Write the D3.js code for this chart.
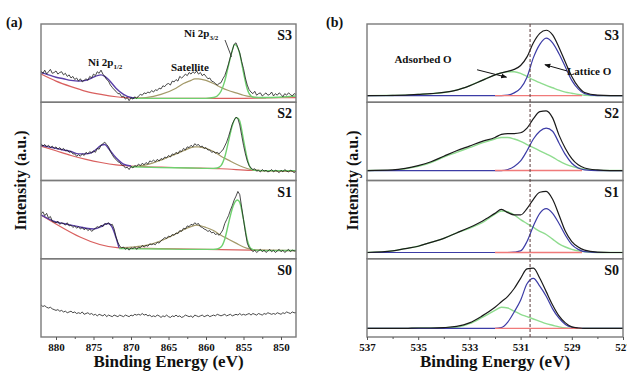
<!DOCTYPE html>
<html>
<head>
<meta charset="utf-8">
<script src="https://cdn.jsdelivr.net/npm/d3@7"></script>
<style>
  body { margin: 0; background: #fff; }
  svg text { font-family: "Liberation Serif", "Times New Roman", Times, "DejaVu Serif", serif; font-weight: bold; fill: #111; }
  .axis path, .axis line { stroke: #555; }
  .axis text { font-size: 11px; }
</style>
</head>
<body>
<svg id="chart" width="627" height="371" style="font-family: 'Liberation Serif', 'Times New Roman', serif;"></svg>
<script>
// ---------- data (intensity in arbitrary units, 0-100 per stacked panel) ----------
const sampleNames = ['S3', 'S2', 'S1', 'S0'];

// (a) Ni 2p raw spectra, 882 -> 848 eV every 0.25 eV
const niEnergy = [
  882, 881.75, 881.5, 881.25, 881, 880.75, 880.5, 880.25, 880, 879.75, 879.5, 879.25,
  879, 878.75, 878.5, 878.25, 878, 877.75, 877.5, 877.25, 877, 876.75, 876.5, 876.25,
  876, 875.75, 875.5, 875.25, 875, 874.75, 874.5, 874.25, 874, 873.75, 873.5, 873.25,
  873, 872.75, 872.5, 872.25, 872, 871.75, 871.5, 871.25, 871, 870.75, 870.5, 870.25,
  870, 869.75, 869.5, 869.25, 869, 868.75, 868.5, 868.25, 868, 867.75, 867.5, 867.25,
  867, 866.75, 866.5, 866.25, 866, 865.75, 865.5, 865.25, 865, 864.75, 864.5, 864.25,
  864, 863.75, 863.5, 863.25, 863, 862.75, 862.5, 862.25, 862, 861.75, 861.5, 861.25,
  861, 860.75, 860.5, 860.25, 860, 859.75, 859.5, 859.25, 859, 858.75, 858.5, 858.25,
  858, 857.75, 857.5, 857.25, 857, 856.75, 856.5, 856.25, 856, 855.75, 855.5, 855.25,
  855, 854.75, 854.5, 854.25, 854, 853.75, 853.5, 853.25, 853, 852.75, 852.5, 852.25,
  852, 851.75, 851.5, 851.25, 851, 850.75, 850.5, 850.25, 850, 849.75, 849.5, 849.25,
  849, 848.75, 848.5, 848.25, 848];
const niS3 = [
  40, 37, 41, 36, 39, 42, 37, 38, 40, 36, 38, 39, 35, 37, 33, 35, 31, 33, 29, 31,
  27, 30, 26, 28, 30, 28, 33, 31, 36, 34, 39, 37, 41, 36, 33, 29, 27, 22, 19, 16,
  14, 11, 11, 7, 8, 4, 6, 2, 6, 4, 7, 5, 8, 10, 9, 12, 11, 13, 12, 15,
  13, 16, 15, 18, 17, 21, 20, 23, 24, 22, 27, 26, 29, 27, 33, 31, 33, 36, 34, 38,
  36, 39, 37, 40, 36, 38, 34, 36, 33, 30, 31, 27, 26, 24, 22, 24, 25, 30, 34, 41,
  49, 58, 66, 74, 76, 70, 63, 52, 43, 31, 22, 16, 13, 11, 14, 9, 11, 12, 8, 10,
  12, 9, 10, 13, 8, 11, 9, 12, 10, 7, 11, 9, 12, 10, 8, 11, 10];
const niS2 = [
  47, 44, 46, 43, 45, 42, 44, 41, 43, 40, 42, 39, 41, 38, 39, 36, 37, 34, 34, 31,
  33, 31, 34, 32, 36, 34, 37, 35, 38, 36, 41, 40, 45, 47, 49, 46, 43, 37, 33, 29,
  27, 24, 23, 20, 19, 16, 17, 14, 18, 16, 19, 18, 21, 19, 22, 20, 23, 21, 25, 24,
  26, 24, 27, 25, 28, 27, 30, 29, 32, 30, 34, 33, 36, 34, 38, 37, 41, 39, 43, 42,
  45, 43, 47, 45, 46, 43, 44, 41, 42, 39, 39, 36, 37, 35, 36, 34, 37, 39, 44, 49,
  56, 64, 72, 77, 81, 79, 71, 58, 45, 34, 25, 19, 16, 14, 15, 12, 13, 11, 14, 12,
  13, 11, 12, 14, 11, 13, 12, 10, 13, 11, 14, 12, 11, 13, 12, 10, 12];
const niS1 = [
  57, 60, 55, 58, 52, 54, 48, 47, 46, 48, 44, 46, 45, 43, 46, 42, 43, 40, 42, 39,
  41, 38, 40, 37, 39, 36, 38, 35, 37, 39, 41, 40, 43, 41, 45, 44, 46, 43, 44, 38,
  28, 21, 16, 14, 15, 12, 14, 11, 14, 13, 15, 12, 15, 14, 17, 15, 17, 16, 19, 18,
  19, 18, 21, 20, 23, 25, 27, 26, 29, 28, 31, 30, 33, 32, 36, 35, 39, 38, 42, 41,
  44, 43, 46, 44, 45, 41, 40, 38, 37, 35, 36, 33, 34, 31, 32, 30, 33, 37, 45, 50,
  55, 62, 68, 75, 80, 86, 82, 66, 50, 34, 20, 14, 12, 9, 11, 8, 10, 12, 9, 11,
  8, 10, 12, 9, 11, 8, 10, 12, 9, 11, 8, 10, 12, 9, 11, 10, 10];
const niS0 = [
  41, 39, 40, 38, 37, 38, 36, 35, 34, 35, 33, 34, 32, 33, 31, 32, 33, 31, 32, 30,
  31, 30, 32, 29, 30, 31, 29, 30, 28, 29, 27, 29, 28, 27, 29, 26, 28, 27, 26, 28,
  27, 26, 28, 27, 26, 28, 27, 26, 28, 27, 29, 28, 29, 28, 30, 28, 29, 27, 28, 26,
  27, 26, 28, 27, 25, 27, 26, 28, 26, 25, 27, 26, 28, 26, 27, 25, 26, 28, 27, 26,
  27, 25, 28, 27, 26, 27, 28, 26, 27, 28, 26, 27, 28, 27, 29, 28, 27, 28, 29, 27,
  28, 29, 27, 28, 29, 28, 30, 28, 29, 28, 29, 30, 28, 30, 29, 28, 30, 29, 28, 30,
  29, 31, 30, 29, 30, 29, 31, 30, 29, 31, 30, 32, 31, 30, 32, 31, 31];

// (a) fitted components: [energies, values] per sample (S3, S2, S1)
const bgEnergy = [[882, 880, 878, 876, 874, 872, 870, 868, 864, 860, 856, 852, 848],
                  [882, 880, 878, 876, 874, 872, 870, 866, 862, 858, 854, 850, 848],
                  [882, 871.6, 866, 860, 854, 848]];
const bgValue = [[36, 27, 20, 14, 10, 7, 5.5, 5, 5, 5, 5, 5.5, 6],
                 [44, 38, 32, 27, 23, 20, 18.5, 17, 16, 15, 13, 12, 11.5],
                 [56, 14, 13, 12, 11, 10.5]];
const p12Energy = [[882, 881, 880, 879, 878, 877, 876, 875, 874.5, 874, 873.5, 873, 872, 871, 870, 869.5],
                   [882, 881, 880, 879, 878, 877, 876, 875, 874.5, 874, 873.5, 873, 872, 871, 870],
                   [882, 881, 880, 879, 878, 877, 876, 875, 874, 873.5, 873, 872.5, 872, 871.6]];
const p12Value = [[38, 35, 32, 30, 28, 27, 28, 32, 34, 35, 33, 29, 18, 10, 6, 5.5],
                  [45, 43, 41, 39, 37, 34, 34, 37, 41, 45, 46, 41, 29, 21, 18.5],
                  [56, 51, 47, 45, 43, 41, 39, 38, 41, 44, 45, 40, 27, 14]];
const satEnergy = [[870, 868, 866, 864, 863, 862, 861.5, 861, 860, 859, 858, 857, 856, 855, 854, 853, 852],
                   [870, 868, 866, 864, 863, 862, 861.5, 861, 860, 859, 858, 857, 856, 855, 854, 853, 852],
                   [871.6, 870, 868, 866, 864, 863, 862, 861.3, 860, 859, 858, 857, 856, 855, 854, 853, 852]];
const satValue = [[5, 6, 10, 18, 24, 28, 30, 30, 28, 24, 19, 15, 12, 9, 7, 6, 5.5],
                  [17.5, 20, 26, 34, 38, 42, 43, 43, 41, 37, 31, 26, 21, 17, 14, 13, 12.5],
                  [14, 15, 17, 23, 32, 37, 41, 43, 40, 36, 30, 25, 20, 15, 12, 11, 10.5]];
const p32Energy = [[870, 866, 862, 860, 859, 858.5, 858, 857.5, 857, 856.5, 856.2, 856, 855.5, 855, 854.5, 854, 853.5, 852, 848],
                   [870, 866, 862, 860, 859, 858.5, 858, 857.5, 857, 856.5, 856, 855.8, 855.5, 855, 854.5, 854, 853.5, 852, 848],
                   [871.6, 866, 862, 860, 859, 858.5, 858, 857.5, 857, 856.5, 856, 855.8, 855.5, 855, 854.5, 854, 853.5, 852, 848]];
const p32Value = [[5, 5, 5, 5, 6, 8, 14, 27, 47, 66, 74, 73, 62, 38, 17, 8, 6, 6, 8],
                  [17.5, 16.5, 16, 15.5, 15.5, 16, 19, 30, 50, 70, 80, 80, 76, 52, 28, 15, 13, 12.5, 12.5],
                  [13, 12.5, 12, 12, 12, 12.5, 15, 25, 45, 64, 74, 75, 72, 50, 24, 13, 11, 10.5, 10.5]];

// (b) O 1s fitted spectra
const oEnergy = [537, 536, 535.5, 535, 534.5, 534, 533.5, 533, 532.5, 532, 531.75, 531.5, 531.25, 531, 530.75,
  530.5, 530.25, 530, 529.75, 529.5, 529.25, 529, 528.75, 528.5, 528, 527.5, 527];
const oTotal = [
  [8.5, 8.7, 9, 10, 11, 12.5, 15.5, 21, 28, 35, 37.5, 39.5, 42, 47, 58, 76, 88, 92, 86, 70, 51, 33, 20, 12.5, 9, 8.5, 8.5],
  [12.7, 13.5, 15.5, 19, 24, 31, 38, 44, 50, 55, 59, 60, 60, 61, 67, 79, 88, 89, 80, 58, 41, 28, 20, 16, 13.5, 12.7, 12.7],
  [8, 10, 13, 16, 21, 26, 33, 40, 48, 58, 63, 59, 56, 56, 64, 76, 85, 86, 76, 56, 35, 22, 15, 11, 8.5, 8, 8],
  [11, 11, 11, 11.5, 11.5, 12, 13.5, 18, 27, 38, 45, 52, 62, 75, 87, 88, 75, 58, 41, 27, 18, 13, 11.5, 11, 11, 11, 11]];
const oAdsorbed = [
  [8.5, 8.7, 9, 10, 11, 12.5, 15.5, 21, 28, 35, 37.5, 39, 39, 37, 33, 28.5, 25, 21.5, 18.5, 15.5, 13, 11.5, 10, 9, 8.5, 8.5, 8.5],
  [12.7, 13, 15, 18, 23, 30, 36, 42, 48, 53, 55, 55, 53, 50, 46, 42, 38, 34, 30, 25, 21, 18, 16, 14.5, 13, 12.7, 12.7],
  [8, 10, 13, 16, 21, 26, 33, 39, 46, 57, 61, 60, 56, 50, 45, 40, 35, 31, 25, 19, 15, 12, 10, 9, 8, 8, 8],
  [11, 11, 11, 11.5, 11.5, 12, 12.5, 17, 25, 34, 38, 37, 33, 29, 26, 23, 20, 17, 15, 13, 11.5, 11, 11, 11, 11, 11, 11]];
const oLattice = [
  [8.5, 8.5, 8.5, 8.5, 8.5, 8.5, 8.5, 8.5, 8.5, 8.5, 8.5, 9, 12, 18, 32, 57, 74, 82, 76, 62, 45, 28, 17, 11, 8.5, 8.5, 8.5],
  [12.7, 12.7, 12.7, 12.7, 12.7, 12.7, 12.7, 12.7, 12.7, 12.7, 12.7, 14, 18, 25, 38, 53, 63, 67, 63, 48, 33, 22, 16, 13.5, 12.7, 12.7, 12.7],
  [8, 8, 8, 8, 8, 8, 8, 8, 8, 8, 8, 8, 8.5, 10, 22, 42, 58, 64, 58, 45, 30, 18, 12, 9, 8, 8, 8],
  [11, 11, 11, 11, 11, 11, 11, 11, 11, 11, 12, 19, 32, 47, 68, 75, 65, 52, 36, 24, 16, 12.5, 11.5, 11, 11, 11, 11]];
const oBaseRange = [532, 528.6];
const oDashed = 530.63;

const niTicks = [880, 875, 870, 865, 860, 855, 850];
const oTicks = [537, 535, 533, 531, 529, 527];

// ---------- layout ----------
const svg = d3.select('#chart');
const plotTop = 24, plotBottom = 337;
const panelH = (plotBottom - plotTop) / 4;
const serif = '"Liberation Serif", "Times New Roman", Times, serif';

const xNi = d3.scaleLinear().domain([882, 848]).range([41, 296]);
const xO = d3.scaleLinear().domain([537, 527]).range([367, 623]);

function yPanel(i) {
    return d3.scaleLinear().domain([0, 100]).range([plotTop + (i + 1) * panelH, plotTop + i * panelH]);
}

const colors = { raw: '#1a1a1a', bg: '#d9605f', p12: '#5a3fa8', sat: '#a49a6a', p32: '#6fd06f',
                 lattice: '#3c3ca6', adsorbed: '#8fdc8f' };

svg.append('defs').append('marker')
    .attr('id', 'arrow').attr('viewBox', '0 0 10 10').attr('refX', 9).attr('refY', 5)
    .attr('markerWidth', 6).attr('markerHeight', 6).attr('orient', 'auto')
    .append('path').attr('d', 'M0,1 L10,5 L0,9 z').attr('fill', '#111');

function drawLine(g, xs, ys, x, y, color, width, curve) {
    const pts = xs.map((e, k) => [e, ys[k]]);
    g.append('path')
        .datum(pts)
        .attr('fill', 'none')
        .attr('stroke', color)
        .attr('stroke-width', width)
        .attr('stroke-linejoin', 'round')
        .attr('d', d3.line().x(d => x(d[0])).y(d => y(d[1])).curve(curve || d3.curveLinear));
}

function label(x, y, size, txt) {
    return svg.append('text')
        .attr('x', x).attr('y', y)
        .style('font-family', serif).style('font-weight', 'bold')
        .style('font-size', size + 'px').text(txt);
}

// ---------- panel (a) ----------
const gA = svg.append('g');
const niRaw = [niS3, niS2, niS1, niS0];
sampleNames.forEach((name, i) => {
    const y = yPanel(i);
    const g = gA.append('g');
    if (i < 3) {
        drawLine(g, bgEnergy[i], bgValue[i], xNi, y, colors.bg, 1.2, d3.curveMonotoneX);
        drawLine(g, satEnergy[i], satValue[i], xNi, y, colors.sat, 1.2, d3.curveMonotoneX);
        drawLine(g, p32Energy[i], p32Value[i], xNi, y, colors.p32, 1.4, d3.curveMonotoneX);
        drawLine(g, p12Energy[i], p12Value[i], xNi, y, colors.p12, 1.4, d3.curveMonotoneX);
    }
    drawLine(g, niEnergy, niRaw[i], xNi, y, colors.raw, 0.8);
    g.append('rect')
        .attr('x', xNi.range()[0]).attr('y', y.range()[1])
        .attr('width', xNi.range()[1] - xNi.range()[0]).attr('height', panelH)
        .attr('fill', 'none').attr('stroke', '#7a7a7a').attr('stroke-width', 1.4);
    label(xNi.range()[1] - 4, y.range()[1] + 16, 14, name).attr('text-anchor', 'end');
});

// ---------- panel (b) ----------
const gB = svg.append('g');
sampleNames.forEach((name, i) => {
    const y = yPanel(i);
    const g = gB.append('g');
    drawLine(g, oEnergy, oAdsorbed[i], xO, y, colors.adsorbed, 1.4, d3.curveMonotoneX);
    drawLine(g, oEnergy, oLattice[i], xO, y, colors.lattice, 1.2, d3.curveMonotoneX);
    const base = oLattice[i][0];
    drawLine(g, oBaseRange, [base, base], xO, y, '#f07a7a', 1.4);
    drawLine(g, oEnergy, oTotal[i], xO, y, colors.raw, 1.2, d3.curveMonotoneX);
    g.append('rect')
        .attr('x', xO.range()[0]).attr('y', y.range()[1])
        .attr('width', xO.range()[1] - xO.range()[0]).attr('height', panelH)
        .attr('fill', 'none').attr('stroke', '#7a7a7a').attr('stroke-width', 1.4);
    label(xO.range()[1] - 4, y.range()[1] + 16, 14, name).attr('text-anchor', 'end');
});

// dashed reference line
gB.append('line')
    .attr('x1', xO(oDashed)).attr('x2', xO(oDashed))
    .attr('y1', plotTop).attr('y2', plotBottom)
    .attr('stroke', '#5a3a3a').attr('stroke-width', 1).attr('stroke-dasharray', '3,2');

// ---------- axes ----------
function drawAxis(x, ticks, minor) {
    svg.append('g').attr('class', 'axis')
        .attr('transform', `translate(0,${plotBottom})`)
        .call(d3.axisBottom(x).tickValues(minor).tickSize(2).tickFormat(''))
        .call(g => g.select('.domain').remove());
    svg.append('g').attr('class', 'axis')
        .attr('transform', `translate(0,${plotBottom})`)
        .attr('font-family', serif)
        .call(d3.axisBottom(x).tickValues(ticks).tickSize(3).tickPadding(3).tickFormat(d3.format('d')))
        .call(g => g.select('.domain').remove())
        .call(g => g.selectAll('text').style('font-family', serif).style('font-weight', 'bold')
            .style('font-size', '11px').attr('fill', '#111'));
}
drawAxis(xNi, niTicks, [877.5, 872.5, 867.5, 862.5, 857.5, 852.5]);
drawAxis(xO, oTicks, [536, 534, 532, 530, 528]);

// axis titles
[[xNi, 20], [xO, 352]].forEach(([x, ty]) => {
    const r = x.range();
    label((r[0] + r[1]) / 2, 367, 17, 'Binding Energy (eV)').attr('text-anchor', 'middle');
    label(0, 0, 16, 'Intensity (a.u.)')
        .attr('transform', `translate(${ty},${(plotTop + plotBottom) / 2}) rotate(-90)`)
        .attr('text-anchor', 'middle').attr('dy', '0.35em');
});

// panel letters
label(6, 27, 14, '(a)');
label(326, 27, 14, '(b)');

// ---------- annotations ----------
const yS3 = yPanel(0);
const n12 = label(88, 66, 11, null);
n12.append('tspan').text('Ni 2p');
n12.append('tspan').attr('dy', 3).style('font-size', '7px').text('1/2');
label(171, 71, 11, 'Satellite');
const n32 = label(184, 37, 11, null);
n32.append('tspan').text('Ni 2p');
n32.append('tspan').attr('dy', 3).style('font-size', '7px').text('3/2');
svg.append('line')
    .attr('x1', 225).attr('y1', 40).attr('x2', xNi(856.6)).attr('y2', yS3(58))
    .attr('stroke', '#333').attr('stroke-width', 0.9);

label(423, 63, 11, 'Adsorbed O').attr('text-anchor', 'middle');
svg.append('line')
    .attr('x1', xO(532.7)).attr('y1', yS3(41.5)).attr('x2', xO(531.55)).attr('y2', yS3(32))
    .attr('stroke', '#111').attr('stroke-width', 1).attr('marker-end', 'url(#arrow)');
label(567, 75, 11, 'Lattice O');
svg.append('line')
    .attr('x1', 567).attr('y1', yS3(40)).attr('x2', xO(530.05)).attr('y2', yS3(48))
    .attr('stroke', '#111').attr('stroke-width', 1).attr('marker-end', 'url(#arrow)');
</script>
</body>
</html>
